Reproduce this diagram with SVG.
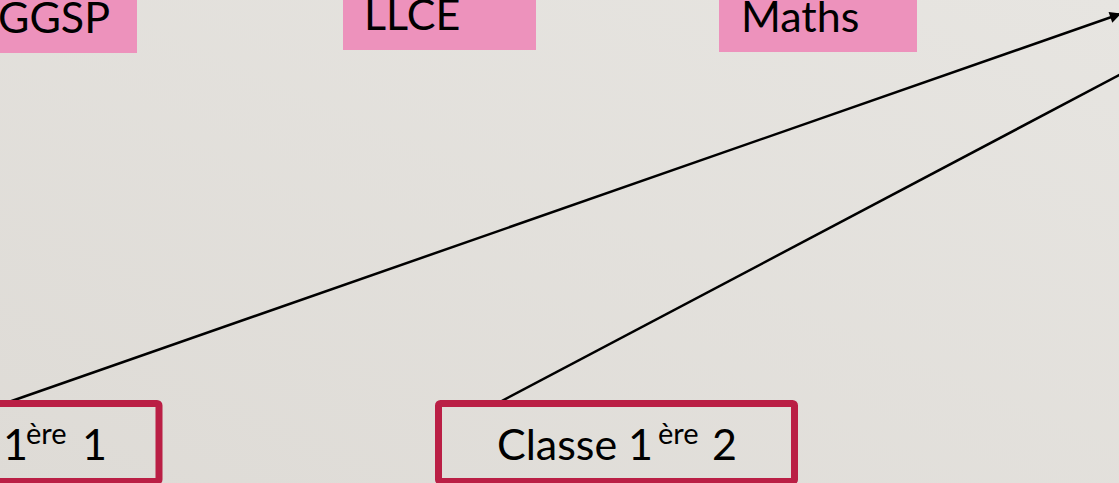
<svg xmlns="http://www.w3.org/2000/svg" width="1119" height="483" viewBox="0 0 1119 483">
  <style>
    .lbl { font-family: Lato, "Open Sans", "Liberation Sans", sans-serif; font-size: 43px; fill: #000; }
    .sup { font-size: 29px; }
    .tag { fill: #ED92BC; }
    .cls { fill: none; stroke: #BA1F45; stroke-width: 7; }
    .conn { stroke: #000; stroke-width: 2.5; fill: none; }
  </style>
  <defs>
    <linearGradient id="bg" x1="0" y1="1" x2="1" y2="0">
      <stop offset="0" stop-color="#dedbd6"/>
      <stop offset="1" stop-color="#e7e5e1"/>
    </linearGradient>
    <marker id="arr" viewBox="0 0 10 10" refX="9" refY="5" markerWidth="5" markerHeight="4.5" orient="auto" markerUnits="strokeWidth">
      <path d="M0,0 L10,5 L0,10 z" fill="#000"/>
    </marker>
  </defs>
  <rect x="0" y="0" width="1119" height="483" fill="url(#bg)"/>

  <g id="node-ggsp">
    <rect class="tag" x="-10" y="-10" width="147" height="63"/>
    <text class="lbl" x="-2" y="33">GGSP</text>
  </g>
  <g id="node-llce">
    <rect class="tag" x="343" y="-10" width="193" height="60"/>
    <text class="lbl" x="364" y="30">LLCE</text>
  </g>
  <g id="node-maths">
    <rect class="tag" x="719" y="-10" width="198" height="62"/>
    <text class="lbl" x="741" y="32">Maths</text>
  </g>

  <g id="connectors">
    <line class="conn" x1="3" y1="404" x2="1120" y2="14" marker-end="url(#arr)"/>
    <line class="conn" x1="496" y1="404" x2="1125" y2="72"/>
  </g>

  <g id="node-classe1">
    <rect class="cls" x="-20" y="403.5" width="179" height="78" rx="2"/>
    <text class="lbl" y="460"><tspan x="3">1</tspan><tspan class="sup" x="26" y="444">ère</tspan><tspan x="82" y="460">1</tspan></text>
  </g>
  <g id="node-classe2">
    <rect class="cls" x="438.5" y="403.5" width="356" height="78" rx="2"/>
    <text class="lbl" y="460"><tspan x="497">Classe</tspan><tspan x="628">1</tspan><tspan class="sup" x="658" y="444">ère</tspan><tspan x="712" y="460">2</tspan></text>
  </g>
</svg>
